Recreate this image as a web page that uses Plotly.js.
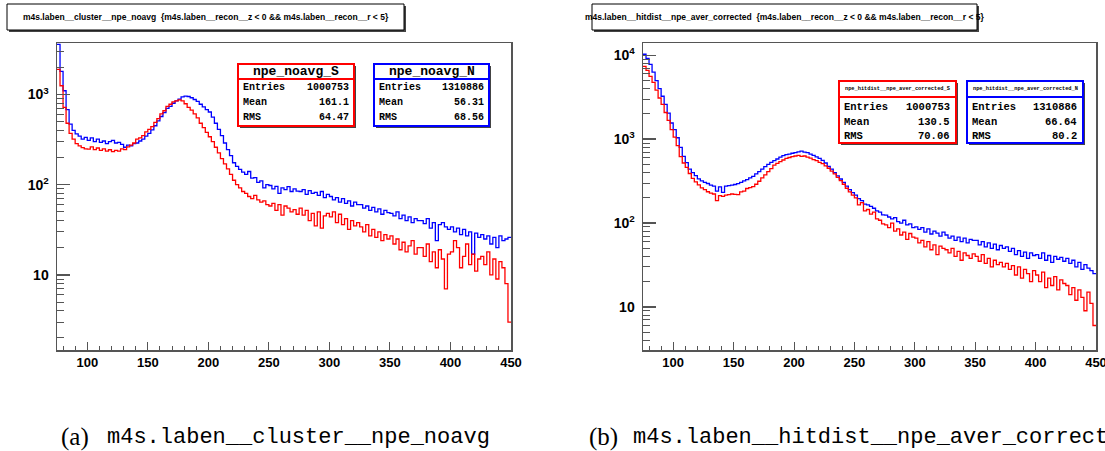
<!DOCTYPE html>
<html>
<head>
<meta charset="utf-8">
<script src="https://cdn.plot.ly/plotly-3.0.1.min.js"></script>
<style>html,body{margin:0;padding:0;background:#fff;}#chart{width:1105px;height:451px;}</style>
</head>
<body>
<div id="chart"></div>
<script>
// ---- data (bins of 2.5 from 75 to 450) ----
const binStart = 75;
const binWidth = 2.5;

const noavgS = [1900,1250,720,480,370,320,285,270,258,250,
 248,262,245,255,240,250,236,244,232,240,
 235,250,245,262,275,290,320,330,350,385,
 410,440,490,540,610,660,740,780,830,850,
 870,850,790,720,670,610,550,480,430,380,
 340,300,260,225,195,170,150,130,112,100,
 92,84,80,74,70,76,68,64,66,60,
 58,62,52,60,46,58,55,50,53,47,
 55,46,52,40,48,35,50,33,45,48,
 44,50,38,47,36,42,32,40,35,38,
 34,30,36,27,32,26,30,24,28,25,
 27,22,25,19,23,18,21,24,17,20,
 20,16,22,14,18,12,19,15,7,17,
 18,24,20,12,16,22,13,17,11,15,
 16,13,18,10,15,9,14,12,8,3];

const noavgN = [3600,1800,1100,680,470,400,365,345,320,335,
 310,330,300,320,295,305,285,300,310,290,
 295,280,260,275,270,285,290,305,320,345,
 370,405,450,510,570,630,700,740,800,850,
 890,940,960,950,920,880,840,780,730,680,
 640,560,480,410,350,290,245,210,175,160,
 148,138,130,140,118,120,106,110,92,100,
 98,90,96,80,92,88,95,84,90,85,
 84,88,78,86,80,82,76,84,72,78,
 74,68,72,64,70,62,66,58,64,60,
 60,55,58,52,56,50,54,47,52,49,
 48,45,50,42,46,40,44,38,42,40,
 40,37,42,33,38,24,36,38,34,32,
 34,30,33,28,32,27,30,17,29,26,
 28,25,27,22,26,20,27,24,25,26];

const correctedS = [7400,6600,5600,4750,3850,3100,2600,2080,1680,1300,
 1060,840,620,520,460,390,340,310,285,262,
 250,236,227,222,185,212,208,215,218,222,
 220,218,235,240,258,265,272,290,315,345,
 375,410,445,490,515,540,565,590,605,620,
 630,640,625,630,610,595,570,555,530,510,
 480,450,415,385,350,320,290,260,235,215,
 200,165,175,140,145,128,135,112,108,98,
 95,88,100,80,85,72,78,64,75,68,
 66,58,62,52,60,48,55,42,53,50,
 48,44,50,40,46,36,44,41,38,43,
 40,35,42,33,38,30,36,32,34,30,
 33,28,31,24,30,22,28,25,20,27,
 24,20,26,17,22,18,23,16,21,19,
 18,14,17,12,16,13,9,15,11,6];

const correctedN = [10300,9200,7800,6300,5000,4000,3250,2600,2050,1560,
 1300,1040,800,625,525,440,400,368,336,318,
 305,296,284,276,240,270,232,276,280,284,
 288,295,305,318,330,345,360,385,410,440,
 470,500,530,555,580,610,635,655,665,680,
 690,705,720,700,690,665,640,615,590,560,
 520,475,440,400,365,335,305,275,250,230,
 215,195,185,168,165,158,150,140,135,125,
 124,118,112,116,104,100,108,95,98,88,
 90,84,88,78,85,74,80,76,70,78,
 72,66,70,62,68,60,66,58,64,62,
 62,55,60,52,58,50,56,48,54,50,
 52,46,50,42,47,40,45,38,44,41,
 42,38,44,36,41,34,40,37,39,35,
 38,33,36,30,34,28,32,29,27,25];

const xTickVals = [100,150,200,250,300,350,400,450];
const xTickText = ['100','150','200','250','300','350','400','450'];
const yTickVals = [10,100,1000,10000];
const yTickText = ['10','10<sup>2</sup>','10<sup>3</sup>','10<sup>4</sup>'];
const yMinorVals = [2,3,4,5,6,7,8,9,20,30,40,50,60,70,80,90,200,300,400,500,600,700,800,900,2000,3000,4000,5000,6000,7000,8000,9000];

const titleA = 'm4s.laben__cluster__npe_noavg  {m4s.laben__recon__z < 0 && m4s.laben__recon__r < 5}';
const titleB = 'm4s.laben__hitdist__npe_aver_corrected  {m4s.laben__recon__z < 0 && m4s.laben__recon__r < 5}';
const statsA = [
  {name:'npe_noavg_S', entries:'1000753', mean:'161.1', rms:'64.47', color:'#ff0000'},
  {name:'npe_noavg_N', entries:'1310886', mean:'56.31', rms:'68.56', color:'#0000ff'}
];
const statsB = [
  {name:'npe_hitdist__npe_aver_corrected_S', entries:'1000753', mean:'130.5', rms:'70.06', color:'#ff0000'},
  {name:'npe_hitdist__npe_aver_corrected_N', entries:'1310886', mean:'66.64', rms:'80.2', color:'#0000ff'}
];
const captionA = ['(a)', 'm4s.laben__cluster__npe_noavg'];
const captionB = ['(b)', 'm4s.laben__hitdist__npe_aver_correct'];

// ---- build ----
const W = 1105, H = 451;
const fx = p => p / W;
const fy = p => 1 - p / H;

function edges(n){ const e=[]; for(let i=0;i<=n;i++) e.push(binStart + i*binWidth); return e; }
function stepTrace(vals, color, xa, ya){
  const x = edges(vals.length);
  const y = vals.concat([vals[vals.length-1]]);
  return {x:x, y:y, type:'scatter', mode:'lines', line:{shape:'hv', color:color, width:1.3},
          xaxis:xa, yaxis:ya, hoverinfo:'skip', showlegend:false};
}

const traces = [
  stepTrace(noavgN, '#0000ff', 'x', 'y'),
  stepTrace(noavgS, '#ff0000', 'x', 'y'),
  stepTrace(correctedN, '#0000ff', 'x2', 'y2'),
  stepTrace(correctedS, '#ff0000', 'x2', 'y2')
];

const frameColor = '#555';
function xAxis(dom, anchor){
  return {domain:dom, anchor:anchor, range:[75,450], showgrid:false, zeroline:false,
    showline:true, linecolor:frameColor, linewidth:1.5, mirror:true,
    ticks:'inside', ticklen:8, tickwidth:1, tickcolor:frameColor,
    tickmode:'array', tickvals:xTickVals, ticktext:xTickText, ticklabeloverflow:'allow',
    minor:{tickmode:'linear', tick0:0, dtick:10, ticks:'inside', ticklen:4, tickwidth:1, tickcolor:frameColor},
    tickfont:{family:'Liberation Sans, Arial, sans-serif', size:13, color:'#000', weight:'bold'}};
}
function yAxis(dom, anchor, rng){
  return {domain:dom, anchor:anchor, type:'log', range:rng, showgrid:false, zeroline:false,
    showline:true, linecolor:frameColor, linewidth:1.5, mirror:true,
    ticks:'inside', ticklen:13, tickwidth:1.5, tickcolor:frameColor,
    tickmode:'array', tickvals:yTickVals, ticktext:yTickText, ticklabelstandoff:4,
    minor:{tickmode:'array', tickvals:yMinorVals, ticks:'inside', ticklen:7, tickwidth:1, tickcolor:frameColor},
    tickfont:{family:'Liberation Sans, Arial, sans-serif', size:14, color:'#000', weight:'bold'}};
}

const shapes = [];
const annotations = [];
function box(x0,y0,x1,y1,lineColor,lineW,shadow){
  if (shadow) shapes.push({type:'rect', xref:'paper', yref:'paper', x0:fx(x0+shadow), x1:fx(x1+shadow), y0:fy(y0+shadow), y1:fy(y1+shadow), fillcolor:'#444', line:{width:0}, layer:'above'});
  shapes.push({type:'rect', xref:'paper', yref:'paper', x0:fx(x0), x1:fx(x1), y0:fy(y0), y1:fy(y1), fillcolor:'#fff', line:{color:lineColor, width:lineW}, layer:'above'});
}
function hline(x0,x1,y,color,w){
  shapes.push({type:'line', xref:'paper', yref:'paper', x0:fx(x0), x1:fx(x1), y0:fy(y), y1:fy(y), line:{color:color, width:w}, layer:'above'});
}
function text(t,x,y,anchor,font){
  annotations.push({text:t, xref:'paper', yref:'paper', x:fx(x), y:fy(y), xanchor:anchor, yanchor:'middle', showarrow:false, font:font, borderpad:0});
}

// title boxes
const titleFont = {family:'Liberation Sans, Arial, sans-serif', size:8.5, color:'#000', weight:'bold'};
box(7,4,404,30,'#000',1,2);
text(titleA.replace(/</g,'&lt;').replace(/&&/g,'&amp;&amp;'), 205.5, 17, 'center', titleFont);
box(592,4,977,30,'#000',1,2);
text(titleB.replace(/</g,'&lt;').replace(/&&/g,'&amp;&amp;'), 784.5, 17, 'center', titleFont);

// stats boxes
function statsBox(s, x0, y0, x1, y1, hdrY, hdrSize, rowYs, labelX, valueX, rowSize){
  box(x0,y0,x1,y1,s.color,2,2);
  hline(x0,x1,hdrY,s.color,2);
  text(s.name, (x0+x1)/2, (y0+hdrY)/2, 'center', {family:'Liberation Mono, Courier New, monospace', size:hdrSize, color:'#000', weight:'bold'});
  const f = {family:'Liberation Mono, Courier New, monospace', size:rowSize, color:'#000', weight:'bold'};
  const labels = ['Entries','Mean','RMS'];
  const vals = [s.entries, s.mean, s.rms];
  for (let i=0;i<3;i++){
    text(labels[i], labelX, rowYs[i], 'left', f);
    text(vals[i], valueX, rowYs[i], 'right', f);
  }
}
statsBox(statsA[0], 238,64,354,126, 79, 13, [88,102.5,117.5], 242, 350, 10);
statsBox(statsA[1], 374,64,489,126, 79, 13, [88,102.5,117.5], 378, 485, 10);
statsBox(statsB[0], 839,81,956,143, 97, 5.3, [107,121.5,136], 843, 951, 10.5);
statsBox(statsB[1], 967,81,1083,143, 97, 5.3, [107,121.5,136], 971, 1078, 10.5);

// captions
const capSerif = {family:'Liberation Serif, DejaVu Serif, serif', size:25, color:'#000'};
const capMono = {family:'Liberation Mono, DejaVu Sans Mono, monospace', size:22, color:'#000'};
text(captionA[0], 60, 437, 'left', capSerif);
text(captionA[1], 106, 437, 'left', capMono);
text(captionB[0], 588, 437, 'left', capSerif);
text(captionB[1], 632, 437, 'left', capMono);

const layout = {
  width:W, height:H, margin:{l:0,r:0,t:0,b:0}, paper_bgcolor:'#fff', plot_bgcolor:'#fff',
  showlegend:false,
  xaxis: xAxis([fx(57), fx(511)], 'y'),
  yaxis: yAxis([fy(350), fy(43)], 'x', [0.167, 3.571]),
  xaxis2: xAxis([fx(643), fx(1096)], 'y2'),
  yaxis2: yAxis([fy(350), fy(43)], 'x2', [0.486, 4.147]),
  shapes: shapes, annotations: annotations
};

Plotly.newPlot('chart', traces, layout, {staticPlot:true, displayModeBar:false});
</script>
</body>
</html>
